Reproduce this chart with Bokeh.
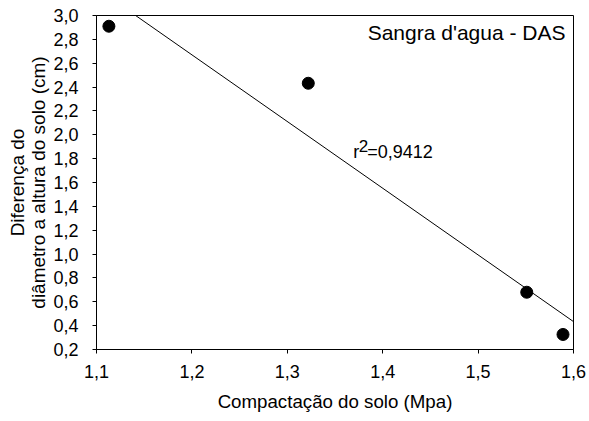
import numpy as np
from bokeh.plotting import figure
from bokeh.models import FixedTicker, Label
from bokeh.embed import file_html
from bokeh.resources import INLINE

# Data
compactacao = [1.113, 1.322, 1.551, 1.589]
diferenca = [2.91, 2.432, 0.68, 0.326]
r2_text = "=0,9412"
title_text = "Sangra d'agua - DAS"

x_ticks = [1.1, 1.2, 1.3, 1.4, 1.5, 1.6]
x_tick_labels = ["1,1", "1,2", "1,3", "1,4", "1,5", "1,6"]
y_ticks = [0.2, 0.4, 0.6, 0.8, 1.0, 1.2, 1.4, 1.6, 1.8, 2.0, 2.2, 2.4, 2.6, 2.8, 3.0]
y_tick_labels = ["0,2", "0,4", "0,6", "0,8", "1,0", "1,2", "1,4", "1,6", "1,8",
                 "2,0", "2,2", "2,4", "2,6", "2,8", "3,0"]

FONT = "Liberation Sans"

p = figure(width=589, height=421, x_range=(1.1, 1.6), y_range=(0.2, 3.0),
           output_backend="svg", toolbar_location=None,
           min_border_left=96, min_border_right=16, min_border_top=15, min_border_bottom=72)
p.grid.visible = False
p.background_fill_color = "white"
p.border_fill_color = "white"
p.outline_line_color = "black"
p.outline_line_width = 1

# regression line from data
slope, intercept = np.polyfit(compactacao, diferenca, 1)
lx = [x_ticks[0], x_ticks[-1]]
ly = [slope * v + intercept for v in lx]
p.line(lx, ly, line_color="black", line_width=1)

p.scatter(compactacao, diferenca, size=12, color="black")

p.xaxis.ticker = FixedTicker(ticks=x_ticks)
p.yaxis.ticker = FixedTicker(ticks=y_ticks)
p.xaxis.major_label_overrides = {t: l for t, l in zip(x_ticks, x_tick_labels)}
p.yaxis.major_label_overrides = {t: l for t, l in zip(y_ticks, y_tick_labels)}

for ax in (p.xaxis, p.yaxis):
    ax.axis_line_color = "black"
    ax.major_tick_line_color = "black"
    ax.major_tick_out = 4
    ax.major_tick_in = 0
    ax.minor_tick_line_color = None
    ax.major_label_text_font = FONT
    ax.major_label_text_font_size = "18px"
    ax.major_label_text_color = "black"
    ax.axis_label_text_font = FONT
    ax.axis_label_text_font_style = "normal"
    ax.axis_label_text_color = "black"

p.xaxis.axis_label = "Compactação do solo (Mpa)"
p.yaxis.axis_label = "Diferença do\ndiâmetro a altura do solo (cm)"
p.xaxis.axis_label_text_font_size = "18.7px"
p.yaxis.axis_label_text_font_size = "19px"
p.yaxis.axis_label_text_line_height = 1.0
p.xaxis.major_label_standoff = 11
p.yaxis.major_label_standoff = 14
p.xaxis.axis_label_standoff = 10
p.yaxis.axis_label_standoff = 1

p.add_layout(Label(x=1.5916, y=2.765, text=title_text, text_align="right",
                   text_font=FONT, text_font_size="21px", text_color="black"))

rx, ry = 1.369, 1.768
p.add_layout(Label(x=rx, y=ry, text="r", text_font=FONT, text_font_size="18px",
                   text_color="black"))
p.add_layout(Label(x=rx, y=ry, x_offset=5.5, y_offset=10, text="2", text_font=FONT,
                   text_font_size="17px", text_color="black"))
p.add_layout(Label(x=rx, y=ry, x_offset=14, text=r2_text, text_font=FONT,
                   text_font_size="18px", text_color="black"))

open("out.html", "w").write(file_html(p, INLINE))
